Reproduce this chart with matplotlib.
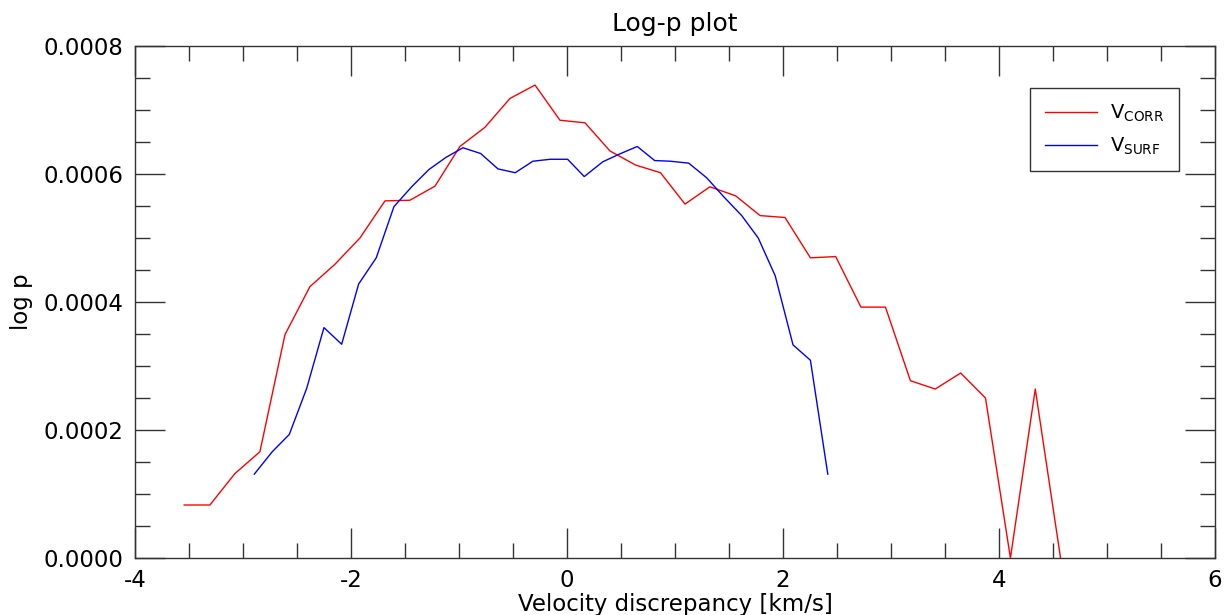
import numpy as np
import matplotlib
matplotlib.use("Agg")
import matplotlib.pyplot as plt
from matplotlib.ticker import MultipleLocator, FormatStrFormatter

# values
v_corr = [-3.544, -3.306, -3.074, -2.843, -2.611, -2.380, -2.148, -1.917, -1.685,
          -1.454, -1.222, -0.991, -0.759, -0.528, -0.296, -0.065, 0.167, 0.398,
          0.635, 0.866, 1.093, 1.323, 1.561, 1.788, 2.019, 2.254, 2.488, 2.722,
          2.949, 3.180, 3.410, 3.645, 3.875, 4.106, 4.336, 4.570]
logp_corr = [0.0000828, 0.0000828, 0.000132, 0.000166, 0.000349, 0.000424, 0.000459,
             0.000500, 0.000558, 0.000559, 0.000581, 0.000643, 0.000673, 0.000718,
             0.000739, 0.000684, 0.000680, 0.000636, 0.000614, 0.000602, 0.000553,
             0.000580, 0.000566, 0.000535, 0.000532, 0.000469, 0.000471, 0.000392,
             0.000392, 0.000277, 0.000264, 0.000289, 0.000250, 0.0, 0.000264, 0.0]

v_surf = [-2.895, -2.729, -2.571, -2.410, -2.250, -2.086, -1.929, -1.766, -1.602,
          -1.438, -1.278, -1.120, -0.963, -0.799, -0.639, -0.479, -0.315, -0.155,
          0.006, 0.160, 0.331, 0.484, 0.651, 0.812, 0.954, 1.127, 1.294, 1.454,
          1.618, 1.771, 1.928, 2.093, 2.254, 2.415]
logp_surf = [0.000131, 0.000166, 0.000193, 0.000265, 0.000360, 0.000334, 0.000428,
             0.000469, 0.000549, 0.000580, 0.000607, 0.000626, 0.000641, 0.000632,
             0.000608, 0.000602, 0.000620, 0.000623, 0.000623, 0.000596, 0.000619,
             0.000631, 0.000643, 0.000621, 0.000620, 0.000617, 0.000594, 0.000564,
             0.000535, 0.000500, 0.000441, 0.000333, 0.000309, 0.000131]

plt.rcParams['font.family'] = 'DejaVu Sans'
plt.rcParams['axes.unicode_minus'] = False

fig = plt.figure(figsize=(12.29, 6.15), dpi=100)
ax = fig.add_axes([0.1098, 0.0927, 0.8788, 0.8325])

ax.plot(v_corr, logp_corr, color='#ff0000', lw=1.0, label=r'$\mathregular{V_{CORR}}$')
ax.plot(v_surf, logp_surf, color='#0000ff', lw=1.0, label=r'$\mathregular{V_{SURF}}$')

ax.set_xlim(-4, 6)
ax.set_ylim(0, 0.0008)
ax.xaxis.set_major_locator(MultipleLocator(2))
ax.xaxis.set_minor_locator(MultipleLocator(0.5))
ax.yaxis.set_major_locator(MultipleLocator(0.0002))
ax.yaxis.set_minor_locator(MultipleLocator(0.00005))
ax.xaxis.set_major_formatter(FormatStrFormatter('%d'))
ax.yaxis.set_major_formatter(FormatStrFormatter('%.4f'))

ax.tick_params(which='both', direction='in', top=True, right=True,
               color='#333333', width=1.0, labelsize=16.5)
ax.tick_params(which='major', length=21.5, pad=8)
ax.tick_params(which='minor', length=11)
for s in ax.spines.values():
    s.set_color('#333333')
    s.set_linewidth(1.0)

ax.set_title('Log-p plot', fontsize=18, pad=11)
ax.set_xlabel('Velocity discrepancy [km/s]', fontsize=16.5, labelpad=1)
ax.set_ylabel('log p', fontsize=16.5, labelpad=8)

leg = ax.legend(loc='upper right', bbox_to_anchor=(0.9667, 0.918), borderaxespad=0,
                fontsize=14, fancybox=False, framealpha=1, edgecolor='#333333',
                handlelength=2.7, handletextpad=0.65, labelspacing=0.6, borderpad=0.75)
leg.get_frame().set_linewidth(1.0)

fig.savefig('out.png', dpi=100)
